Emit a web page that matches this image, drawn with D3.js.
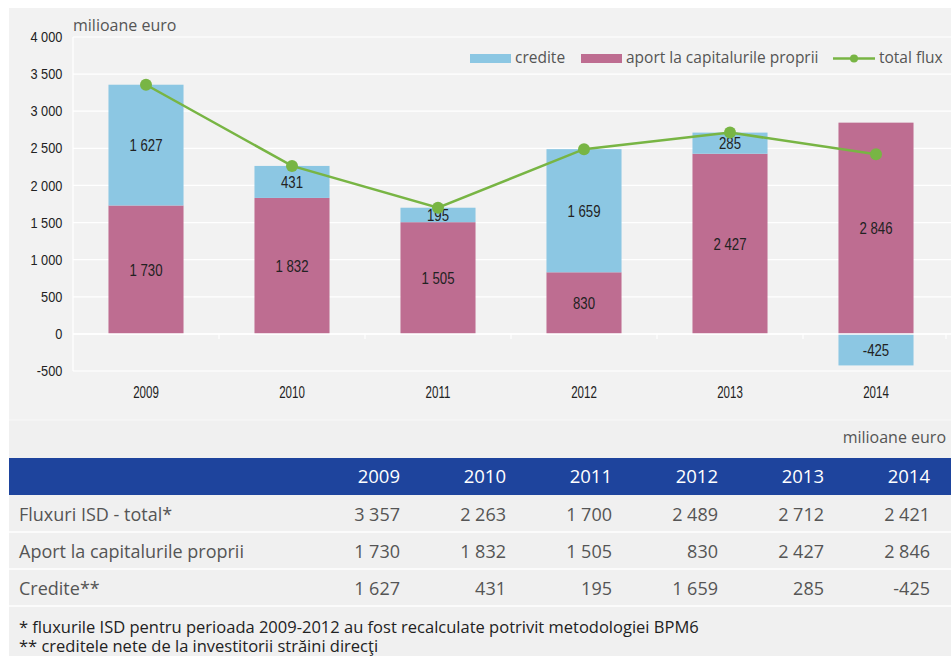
<!DOCTYPE html>
<html>
<head>
<meta charset="utf-8">
<script src="https://cdn.jsdelivr.net/npm/d3@7"></script>
<style>
  body { margin: 0; background: #fff; }
  svg { display: block; }
  .cond { font-family: "Liberation Sans", Arial, sans-serif; }
  .reg { font-family: "Open Sans", "Noto Sans", sans-serif; }
</style>
</head>
<body>
<svg id="chart" width="951" height="656"></svg>
<script>
// date
var years = ["2009", "2010", "2011", "2012", "2013", "2014"];
var aport = [1730, 1832, 1505, 830, 2427, 2846];
var credite = [1627, 431, 195, 1659, 285, -425];
var totalFlux = [3357, 2263, 1700, 2489, 2712, 2421];
var yTicks = [-500, 0, 500, 1000, 1500, 2000, 2500, 3000, 3500, 4000];
var rowNames = ["Fluxuri ISD - total*", "Aport la capitalurile proprii", "Credite**"];
var notes = ["* fluxurile ISD pentru perioada 2009-2012 au fost recalculate potrivit metodologiei BPM6",
             "** creditele nete de la investitorii străini direcţi"];

var colCredite = "#8cc7e3",
    colAport = "#be6d91",
    colLine = "#78b544";

var ro = d3.formatLocale({ decimal: ",", thousands: " ", grouping: [3], currency: ["", ""], minus: "-" });
var fmt = ro.format(",d");

var svg = d3.select("#chart");

// fundal
svg.append("rect").attr("x", 9).attr("y", 8).attr("width", 942).attr("height", 648).attr("fill", "#f0f0f0");
svg.append("rect").attr("x", 9).attr("y", 8).attr("width", 942).attr("height", 412).attr("fill", "#f2f2f2");

var x = d3.scaleBand().domain(years).range([73, 949]).paddingInner(0.486).paddingOuter(0.243);
var y = d3.scaleLinear().domain([-500, 4000]).range([371, 37]);
var cx = d => x(d) + x.bandwidth() / 2;

// grila
svg.append("g").selectAll("line").data(yTicks).join("line")
  .attr("x1", 73).attr("x2", 951)
  .attr("y1", d => y(d)).attr("y2", d => y(d))
  .attr("stroke", "#fff").attr("stroke-width", 1.2);
svg.append("line").attr("x1", 73).attr("x2", 73).attr("y1", y(4000)).attr("y2", y(-500))
  .attr("stroke", "#fff").attr("stroke-width", 1.2);

// axa y (text ingustat ca sa semene cu fontul condensed)
var yAxis = svg.append("g").attr("transform", "translate(65,0)")
  .call(d3.axisLeft(y).tickValues(yTicks).tickSize(0).tickFormat(fmt));
yAxis.select(".domain").remove();
yAxis.selectAll("text").attr("class", "cond").attr("font-size", 14.5).attr("fill", "#222")
  .attr("transform", "scale(0.88,1)");

var data = years.map((yr, i) => ({ year: yr, aport: aport[i], credite: credite[i], total: totalFlux[i] }));

// bare aport
svg.append("g").selectAll("rect").data(data).join("rect")
  .attr("x", d => x(d.year)).attr("width", x.bandwidth())
  .attr("y", d => y(d.aport)).attr("height", d => y(0) - y(d.aport))
  .attr("fill", colAport);

// bare credite (peste aport, sau sub 0 daca e negativ)
svg.append("g").selectAll("rect").data(data).join("rect")
  .attr("x", d => x(d.year)).attr("width", x.bandwidth())
  .attr("y", d => d.credite >= 0 ? y(d.aport + d.credite) : y(0))
  .attr("height", d => Math.abs(y(0) - y(d.credite)))
  .attr("fill", colCredite);

// axa x: linia 0 cu tick-uri intre categorii
svg.append("line").attr("x1", 73).attr("x2", 951).attr("y1", y(0)).attr("y2", y(0))
  .attr("stroke", "#fff").attr("stroke-width", 1.5);
svg.append("g").selectAll("line").data(years.slice(1)).join("line")
  .attr("x1", d => x(d) - x.step() * x.paddingInner() / 2)
  .attr("x2", d => x(d) - x.step() * x.paddingInner() / 2)
  .attr("y1", y(0)).attr("y2", y(0) + 5)
  .attr("stroke", "#fff").attr("stroke-width", 1.2);
svg.append("line").attr("x1", 946).attr("x2", 946).attr("y1", y(0)).attr("y2", y(0) + 5)
  .attr("stroke", "#fff").attr("stroke-width", 1.2);

svg.append("g").selectAll("text").data(years).join("text")
  .attr("class", "cond")
  .attr("transform", d => `translate(${cx(d)},397.5) scale(0.7,1)`)
  .attr("text-anchor", "middle").attr("font-size", 16.5).attr("fill", "#222")
  .text(d => d);

// etichete valori
svg.append("g").selectAll("text").data(data).join("text")
  .attr("class", "cond")
  .attr("transform", d => `translate(${cx(d.year)},${y(d.aport / 2)}) scale(0.8,1)`)
  .attr("dy", "0.36em")
  .attr("text-anchor", "middle").attr("font-size", 16.5).attr("fill", "#222")
  .text(d => fmt(d.aport));
svg.append("g").selectAll("text").data(data).join("text")
  .attr("class", "cond")
  .attr("transform", d => `translate(${cx(d.year)},${d.credite >= 0 ? y(d.aport + d.credite / 2) : y(d.credite / 2)}) scale(0.8,1)`)
  .attr("dy", "0.36em")
  .attr("text-anchor", "middle").attr("font-size", 16.5).attr("fill", "#222")
  .text(d => fmt(d.credite));

// linia total flux
var line = d3.line().x(d => cx(d.year)).y(d => y(d.total));
svg.append("path").datum(data).attr("d", line)
  .attr("fill", "none").attr("stroke", colLine).attr("stroke-width", 2.5);
svg.append("g").selectAll("circle").data(data).join("circle")
  .attr("cx", d => cx(d.year)).attr("cy", d => y(d.total))
  .attr("r", 6).attr("fill", colLine);

// unitate
svg.append("text").attr("class", "reg").attr("x", 73).attr("y", 31)
  .attr("font-size", 16).attr("fill", "#555").text("milioane euro");

// legenda
var leg = svg.append("g").attr("class", "reg").attr("font-size", 15.5).attr("fill", "#555");
leg.append("rect").attr("x", 470).attr("y", 54).attr("width", 41).attr("height", 9).attr("fill", colCredite);
leg.append("text").attr("x", 515).attr("y", 63).text("credite");
leg.append("rect").attr("x", 581).attr("y", 54).attr("width", 41).attr("height", 9).attr("fill", colAport);
leg.append("text").attr("x", 626).attr("y", 63).text("aport la capitalurile proprii");
leg.append("line").attr("x1", 833).attr("x2", 875).attr("y1", 58.5).attr("y2", 58.5)
  .attr("stroke", colLine).attr("stroke-width", 2.5);
leg.append("circle").attr("cx", 854).attr("cy", 58.5).attr("r", 4).attr("fill", colLine);
leg.append("text").attr("x", 879).attr("y", 63).text("total flux");

// tabel
svg.append("line").attr("x1", 9).attr("x2", 951).attr("y1", 420).attr("y2", 420)
  .attr("stroke", "#f8f8f8").attr("stroke-width", 1);
svg.append("text").attr("class", "reg").attr("x", 946).attr("y", 443)
  .attr("text-anchor", "end").attr("font-size", 16).attr("fill", "#555").text("milioane euro");

svg.append("rect").attr("x", 9).attr("y", 458).attr("width", 942).attr("height", 37).attr("fill", "#1e449d");
var colRight = d3.scalePoint().domain(years).range([400, 930]);
svg.append("g").selectAll("text").data(years).join("text")
  .attr("class", "reg")
  .attr("x", d => colRight(d)).attr("y", 483)
  .attr("text-anchor", "end").attr("font-size", 18.5).attr("fill", "#fff")
  .text(d => d);

var rows = [totalFlux, aport, credite];
var rowH = 37;
rows.forEach(function (vals, r) {
  var top = 495 + r * rowH;
  svg.append("line").attr("x1", 9).attr("x2", 951).attr("y1", top + rowH).attr("y2", top + rowH)
    .attr("stroke", "#fff").attr("stroke-width", 1.5);
  svg.append("text").attr("class", "reg").attr("x", 19).attr("y", top + 26)
    .attr("font-size", 18).attr("fill", "#555").text(rowNames[r]);
  svg.append("g").selectAll("text").data(vals).join("text")
    .attr("class", "reg")
    .attr("x", (d, i) => colRight(years[i])).attr("y", top + 26)
    .attr("text-anchor", "end").attr("font-size", 18).attr("fill", "#555")
    .text(d => fmt(d));
});

// note de subsol
svg.append("g").selectAll("text").data(notes).join("text")
  .attr("class", "reg")
  .attr("x", 19).attr("y", (d, i) => 633 + i * 19)
  .attr("font-size", 16.5).attr("fill", "#222")
  .text(d => d);
</script>
</body>
</html>
